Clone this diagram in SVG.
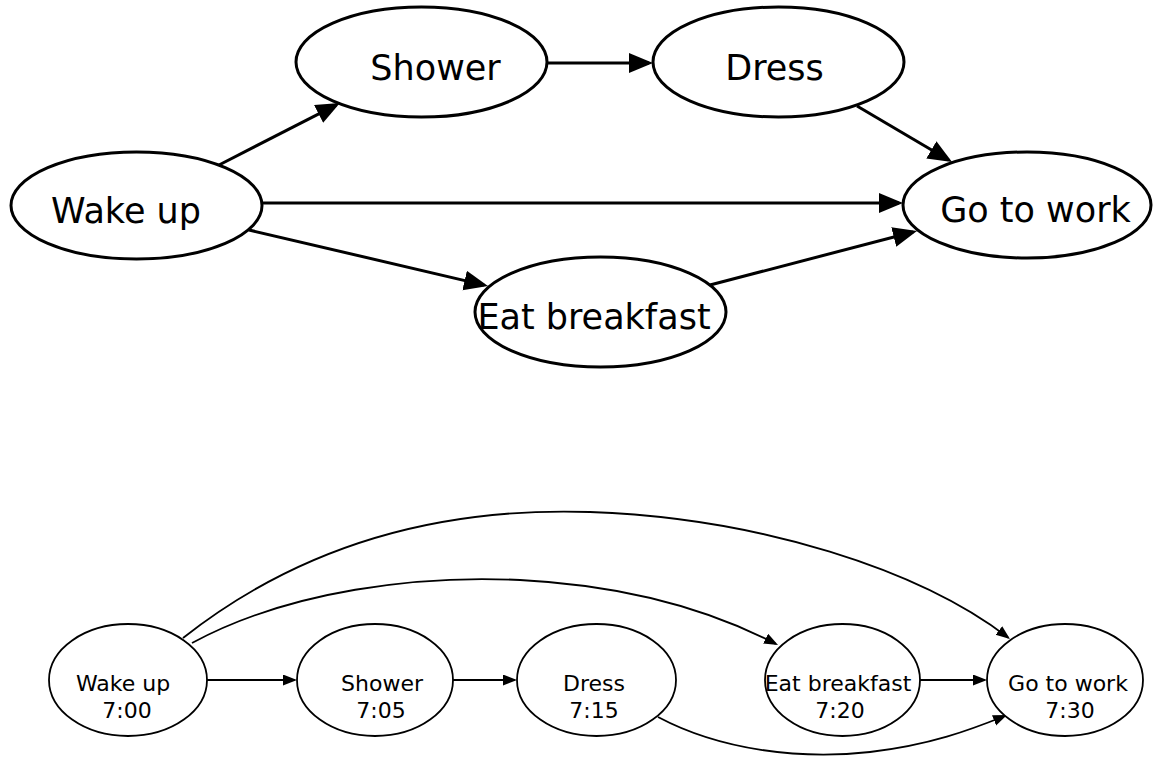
<svg xmlns="http://www.w3.org/2000/svg" width="1153" height="757" viewBox="0 0 1153 757">
  <style>
    .node ellipse { fill: #fff; stroke: #000; }
    .big ellipse { stroke-width: 3; }
    .small ellipse { stroke-width: 1.8; }
    .big text { font-family: "DejaVu Sans", sans-serif; font-size: 35px; fill: #000; text-anchor: middle; }
    .small text { font-family: "DejaVu Sans", sans-serif; font-size: 22px; fill: #000; text-anchor: middle; }
    .edge { fill: none; stroke: #000; }
    .edge-big { stroke-width: 3; marker-end: url(#head-big); }
    .edge-small { stroke-width: 1.8; marker-end: url(#head-small); }
  </style>
  <defs>
    <marker id="head-big" markerUnits="userSpaceOnUse" markerWidth="26" markerHeight="22" refX="20" refY="10" orient="auto">
      <path d="M0,0 L24,10 L0,20 z" fill="#000"/>
    </marker>
    <marker id="head-small" markerUnits="userSpaceOnUse" markerWidth="16" markerHeight="13" refX="11.5" refY="5.5" orient="auto">
      <path d="M0,0 L14,5.5 L0,11 z" fill="#000"/>
    </marker>
  </defs>
  <rect width="1153" height="757" fill="#fff"/>

  <!-- dependency graph -->
  <g id="edges-top">
    <path class="edge edge-big" d="M219,165 L336.4,104.8"/>
    <path class="edge edge-big" d="M547,63 L649,63"/>
    <path class="edge edge-big" d="M857,106 L948.6,160"/>
    <path class="edge edge-big" d="M262,203 L899,203"/>
    <path class="edge edge-big" d="M249,230 L484.1,285.1"/>
    <path class="edge edge-big" d="M710,285 L913.1,232"/>
  </g>

  <g id="wake-up" class="node big">
    <ellipse cx="136.5" cy="205.5" rx="125.5" ry="53.5"/>
    <text x="126" y="223">Wake up</text>
  </g>
  <g id="shower" class="node big">
    <ellipse cx="421.5" cy="62" rx="125.5" ry="55"/>
    <text x="435.5" y="80">Shower</text>
  </g>
  <g id="dress" class="node big">
    <ellipse cx="778.5" cy="62" rx="125.5" ry="55"/>
    <text x="774.5" y="80">Dress</text>
  </g>
  <g id="go-to-work" class="node big">
    <ellipse cx="1027" cy="205" rx="124" ry="53"/>
    <text x="1035.5" y="222">Go to work</text>
  </g>
  <g id="eat-breakfast" class="node big">
    <ellipse cx="600.5" cy="312" rx="125.5" ry="55"/>
    <text x="594" y="329">Eat breakfast</text>
  </g>

  <!-- timeline -->
  <g id="edges-bottom">
    <path class="edge edge-small" d="M207,680 L294.5,680"/>
    <path class="edge edge-small" d="M453,680 L514.5,680"/>
    <path class="edge edge-small" d="M920,680 L984.5,680"/>
    <path class="edge edge-small" d="M183,638 C320,530 470,508 590,512 C760,518 920,570 1008,637.5"/>
    <path class="edge edge-small" d="M192,643 C290,590 420,575 520,580 C640,586 720,615 775.8,643.9"/>
    <path class="edge edge-small" d="M658,717 C720,750 800,760 870,752 C930,745 970,730 1004.7,716"/>
  </g>

  <g id="t-wake-up" class="node small">
    <ellipse cx="128" cy="680" rx="79" ry="56"/>
    <text x="123" y="691">Wake up</text>
    <text x="127" y="718">7:00</text>
  </g>
  <g id="t-shower" class="node small">
    <ellipse cx="375" cy="680" rx="78" ry="56"/>
    <text x="382" y="691">Shower</text>
    <text x="381" y="718">7:05</text>
  </g>
  <g id="t-dress" class="node small">
    <ellipse cx="596.5" cy="680" rx="79.5" ry="56"/>
    <text x="594" y="691">Dress</text>
    <text x="594" y="718">7:15</text>
  </g>
  <g id="t-eat-breakfast" class="node small">
    <ellipse cx="842.5" cy="680" rx="77.5" ry="56"/>
    <text x="838" y="691">Eat breakfast</text>
    <text x="840" y="718">7:20</text>
  </g>
  <g id="t-go-to-work" class="node small">
    <ellipse cx="1065" cy="680" rx="78" ry="56"/>
    <text x="1068" y="691">Go to work</text>
    <text x="1070" y="718">7:30</text>
  </g>
</svg>
